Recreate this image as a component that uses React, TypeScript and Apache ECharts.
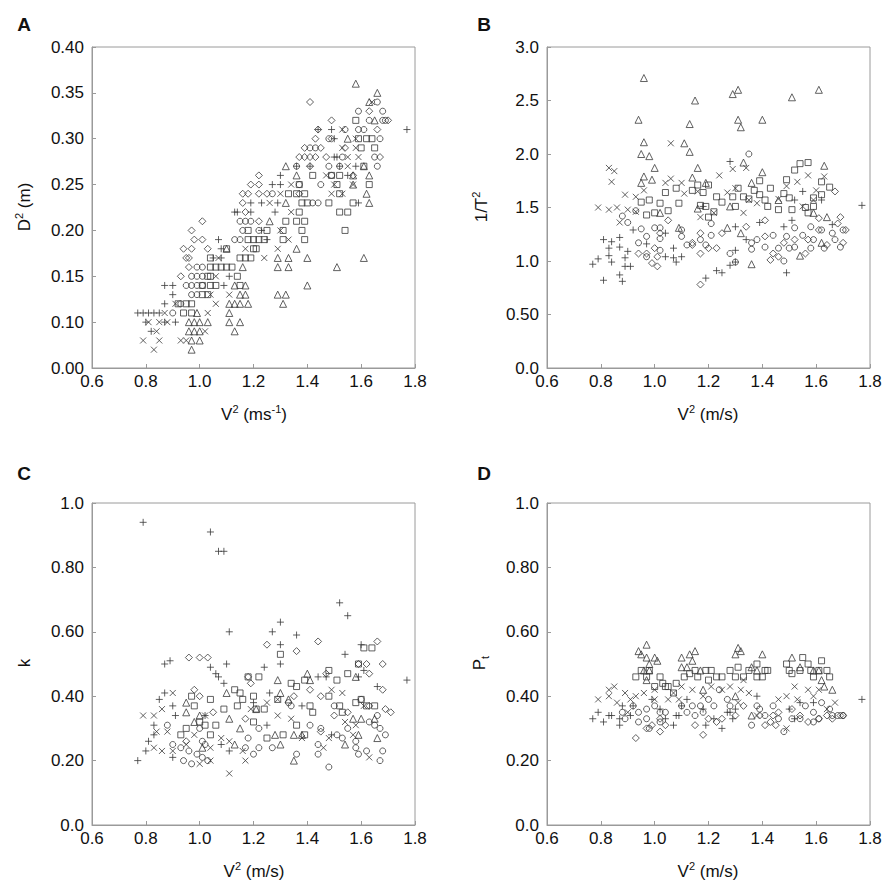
import React, { useEffect, useRef } from "react";
import * as echarts from "echarts";

type Pt = [number, number];

// ---------- tick labels ----------
const xTicks = ["0.6", "0.8", "1.0", "1.2", "1.4", "1.6", "1.8"];
const yTicksA = ["0.00", "0.10", "0.15", "0.20", "0.25", "0.30", "0.35", "0.40"];
const yTicksB = ["0.0", "0.50", "1.0", "1.5", "2.0", "2.5", "3.0"];
const yTicksCD = ["0.0", "0.20", "0.40", "0.60", "0.80", "1.0"];

// ---------- Panel A : D^2 vs V^2 ----------
const A_plus: Pt[] = [[1.44,0.31],[1.49,0.31],[1.77,0.31],[1.50,0.30],[1.50,0.28],[1.51,0.28],[1.36,0.27],[1.41,0.27],[1.52,0.27],[1.58,0.27],[1.30,0.26],[1.55,0.26],[1.27,0.25],[1.30,0.25],[1.19,0.23],[1.23,0.23],[1.29,0.23],[1.59,0.23],[1.13,0.22],[1.14,0.22],[1.19,0.22],[1.28,0.22],[1.23,0.20],[1.07,0.19],[1.25,0.19],[1.08,0.18],[1.05,0.17],[1.08,0.17],[1.11,0.15],[0.87,0.14],[0.90,0.14],[1.09,0.14],[0.90,0.13],[0.87,0.12],[0.77,0.11],[0.79,0.11],[0.81,0.11],[0.83,0.11],[0.85,0.11],[0.80,0.10],[0.87,0.10],[0.91,0.10],[0.82,0.09]];
const A_cross: Pt[] = [[1.64,0.34],[1.53,0.31],[1.58,0.30],[1.53,0.29],[1.58,0.29],[1.55,0.28],[1.59,0.28],[1.55,0.27],[1.47,0.26],[1.34,0.25],[1.50,0.25],[1.57,0.25],[1.30,0.24],[1.49,0.24],[1.53,0.24],[1.26,0.23],[1.34,0.22],[1.30,0.20],[1.33,0.19],[1.17,0.18],[1.29,0.18],[1.07,0.17],[1.24,0.17],[1.06,0.15],[1.04,0.13],[1.11,0.13],[0.91,0.12],[1.06,0.12],[0.87,0.11],[1.03,0.11],[0.81,0.10],[0.85,0.10],[0.88,0.10],[0.84,0.09],[1.02,0.09],[0.79,0.08],[0.85,0.08],[0.93,0.08],[0.95,0.08],[0.83,0.07]];
const A_diamond: Pt[] = [[1.41,0.34],[1.63,0.33],[1.49,0.32],[1.70,0.32],[1.44,0.31],[1.66,0.31],[1.43,0.30],[1.49,0.30],[1.39,0.29],[1.45,0.29],[1.54,0.29],[1.37,0.28],[1.39,0.28],[1.41,0.28],[1.43,0.28],[1.47,0.28],[1.67,0.28],[1.41,0.27],[1.22,0.26],[1.57,0.26],[1.19,0.25],[1.22,0.25],[1.16,0.24],[1.18,0.24],[1.22,0.24],[1.25,0.24],[1.37,0.24],[1.16,0.23],[1.17,0.22],[1.01,0.21],[1.22,0.21],[0.97,0.20],[0.98,0.19],[1.01,0.19],[0.94,0.18],[0.97,0.18],[1.03,0.18],[0.95,0.17],[0.96,0.17],[0.96,0.16],[0.93,0.15]];
const A_circle: Pt[] = [[1.66,0.34],[1.59,0.33],[1.68,0.33],[1.63,0.32],[1.68,0.32],[1.69,0.32],[1.54,0.31],[1.59,0.31],[1.61,0.31],[1.48,0.30],[1.67,0.30],[1.41,0.29],[1.43,0.29],[1.53,0.28],[1.65,0.28],[1.36,0.27],[1.48,0.27],[1.52,0.27],[1.66,0.27],[1.49,0.26],[1.37,0.25],[1.45,0.25],[1.27,0.24],[1.42,0.23],[1.44,0.23],[1.15,0.21],[1.17,0.21],[1.19,0.21],[1.16,0.20],[1.22,0.20],[1.13,0.19],[1.15,0.19],[0.99,0.16],[1.01,0.16],[0.97,0.15],[0.99,0.15],[1.01,0.15],[0.95,0.14],[0.97,0.14],[0.99,0.14],[1.01,0.14],[0.97,0.13],[0.99,0.13],[0.93,0.12],[0.90,0.11]];
const A_square: Pt[] = [[1.58,0.32],[1.59,0.30],[1.62,0.30],[1.64,0.30],[1.60,0.29],[1.65,0.29],[1.61,0.27],[1.42,0.26],[1.49,0.26],[1.52,0.26],[1.37,0.25],[1.51,0.25],[1.63,0.25],[1.33,0.24],[1.36,0.24],[1.39,0.24],[1.52,0.24],[1.38,0.23],[1.40,0.23],[1.48,0.23],[1.57,0.23],[1.37,0.22],[1.52,0.22],[1.55,0.22],[1.32,0.21],[1.36,0.21],[1.39,0.21],[1.18,0.20],[1.25,0.20],[1.31,0.20],[1.38,0.20],[1.54,0.20],[1.18,0.19],[1.20,0.19],[1.22,0.19],[1.24,0.19],[1.31,0.19],[1.39,0.19],[1.10,0.18],[1.20,0.18],[1.21,0.18],[1.04,0.17],[1.15,0.17],[1.17,0.17],[1.19,0.17],[1.04,0.16],[1.06,0.16],[1.08,0.16],[1.10,0.16],[1.12,0.16],[1.03,0.15],[1.04,0.15],[1.14,0.15],[1.01,0.14],[1.04,0.14],[1.06,0.14],[1.15,0.14],[1.01,0.13],[1.03,0.13],[0.92,0.12],[0.95,0.12],[0.97,0.12],[0.94,0.11],[0.97,0.11]];
const A_triangle: Pt[] = [[1.58,0.36],[1.66,0.35],[1.63,0.34],[1.65,0.32],[1.55,0.30],[1.32,0.27],[1.61,0.27],[1.36,0.26],[1.57,0.26],[1.63,0.26],[1.57,0.25],[1.62,0.24],[1.32,0.23],[1.63,0.23],[1.26,0.21],[1.10,0.18],[1.36,0.18],[1.29,0.17],[1.33,0.17],[1.40,0.17],[1.61,0.17],[1.16,0.16],[1.29,0.16],[1.33,0.16],[1.51,0.16],[1.13,0.14],[1.17,0.14],[1.40,0.14],[1.15,0.13],[1.17,0.13],[1.29,0.13],[1.32,0.13],[1.11,0.12],[1.13,0.12],[1.15,0.12],[1.18,0.12],[1.31,0.12],[0.99,0.11],[1.11,0.11],[0.96,0.10],[0.98,0.10],[1.00,0.10],[1.03,0.10],[1.11,0.10],[1.15,0.10],[0.96,0.09],[0.98,0.09],[1.00,0.09],[1.13,0.09],[0.97,0.08],[1.00,0.08],[0.97,0.07]];

// ---------- Panel B : 1/T^2 vs V^2 ----------
const B_triangle: Pt[] = [[0.96,2.71],[0.94,2.32],[0.96,2.11],[0.95,2.00],[0.98,1.98],[1.15,2.50],[1.13,2.28],[1.13,2.02],[1.11,2.10],[1.29,2.56],[1.31,2.60],[1.31,2.32],[1.32,2.25],[1.40,2.32],[1.33,1.92],[1.51,2.53],[1.61,2.60],[1.63,1.89],[0.96,1.79],[1.00,1.87],[0.99,1.76],[0.95,1.73],[1.16,1.87],[1.14,1.78],[1.19,1.73],[1.40,1.83],[1.36,1.73],[1.28,1.51],[1.32,1.26],[1.36,0.97],[1.54,1.05],[1.09,1.31],[1.27,1.31],[1.64,1.41],[1.62,1.17],[1.02,1.45],[1.16,1.49],[1.46,1.57],[1.59,1.45]];
const B_square: Pt[] = [[0.97,1.43],[0.98,1.57],[0.95,1.55],[1.00,1.45],[1.04,1.64],[1.05,1.47],[1.02,1.54],[1.08,1.68],[1.09,1.54],[1.14,1.66],[1.18,1.64],[1.16,1.71],[1.20,1.71],[1.17,1.52],[1.19,1.51],[1.22,1.46],[1.20,1.41],[1.23,1.60],[1.25,1.55],[1.29,1.60],[1.30,1.51],[1.31,1.68],[1.33,1.60],[1.35,1.58],[1.37,1.66],[1.39,1.62],[1.41,1.57],[1.42,1.51],[1.39,1.75],[1.43,1.68],[1.49,1.76],[1.50,1.59],[1.52,1.85],[1.54,1.91],[1.57,1.92],[1.51,1.48],[1.56,1.50],[1.59,1.51],[1.62,1.62],[1.65,1.69],[1.62,1.74],[1.46,1.48],[1.48,1.63],[1.57,1.45],[1.59,1.59]];
const B_cross: Pt[] = [[0.83,1.87],[0.85,1.84],[0.84,1.74],[0.79,1.50],[0.83,1.48],[0.86,1.50],[0.87,1.36],[0.89,1.62],[0.90,1.48],[0.93,1.60],[0.93,1.46],[0.96,1.66],[1.04,1.73],[1.06,2.10],[1.06,1.77],[1.10,1.73],[1.11,1.63],[1.16,1.65],[1.24,1.80],[1.27,1.64],[1.29,1.86],[1.30,1.68],[1.34,1.87],[1.35,1.57],[1.38,1.54],[1.46,1.58],[1.49,1.70],[1.53,1.74],[1.57,1.80],[1.63,1.79],[1.60,1.66],[1.55,1.51],[1.59,1.57],[1.17,1.41],[1.22,1.45],[1.33,1.45]];
const B_plus: Pt[] = [[0.77,0.97],[0.79,1.02],[0.81,0.82],[0.81,1.20],[0.83,1.12],[0.83,1.05],[0.84,1.18],[0.84,0.99],[0.87,1.22],[0.87,0.87],[0.88,0.81],[0.87,1.13],[0.89,1.03],[0.89,0.95],[0.91,0.95],[0.92,1.29],[0.90,1.09],[0.97,1.16],[1.04,1.04],[1.07,1.03],[1.08,0.99],[1.10,1.04],[1.07,1.12],[1.04,1.26],[1.18,1.51],[1.19,0.84],[1.23,0.91],[1.25,0.89],[1.28,1.93],[1.28,0.96],[1.30,0.99],[1.30,1.10],[1.30,1.32],[1.34,1.20],[1.39,1.36],[1.49,0.89],[1.51,1.38],[1.52,1.57],[1.55,1.65],[1.62,1.57],[1.77,1.52],[1.66,1.34],[1.48,1.32]];
const B_circle: Pt[] = [[0.90,1.36],[0.88,1.42],[0.93,1.47],[0.94,1.17],[0.95,1.30],[0.97,1.23],[0.97,1.04],[1.00,1.31],[1.02,1.10],[1.02,1.31],[1.02,1.21],[1.10,1.29],[1.10,1.23],[1.12,1.15],[1.17,1.20],[1.19,1.15],[1.21,1.35],[1.21,1.24],[1.28,1.07],[1.30,0.99],[1.35,2.00],[1.36,1.17],[1.36,1.11],[1.38,1.20],[1.41,1.13],[1.44,1.24],[1.48,1.00],[1.46,1.12],[1.49,1.23],[1.52,1.13],[1.55,1.24],[1.58,1.12],[1.58,1.32],[1.59,1.20],[1.62,1.29],[1.63,1.12],[1.66,1.26],[1.67,1.20],[1.70,1.29],[1.69,1.13],[1.52,1.31],[1.50,1.12]];
const B_diamond: Pt[] = [[1.01,0.95],[0.99,0.98],[0.97,1.07],[1.00,1.12],[1.02,1.26],[0.94,1.07],[1.01,1.04],[1.05,1.38],[1.14,1.15],[1.17,1.07],[1.17,0.78],[1.20,1.12],[1.23,1.12],[1.25,1.26],[1.41,1.38],[1.43,1.01],[1.44,1.07],[1.46,1.04],[1.48,1.17],[1.52,1.20],[1.56,1.07],[1.57,1.20],[1.61,1.29],[1.64,1.15],[1.67,1.65],[1.69,1.41],[1.71,1.29],[1.70,1.17],[1.68,1.35],[1.41,1.23],[1.34,1.32],[1.17,1.26],[1.14,1.17],[1.61,1.40]];

// ---------- Panel C : k vs V^2 ----------
const C_plus: Pt[] = [[0.79,0.94],[1.04,0.91],[1.07,0.85],[1.09,0.85],[1.11,0.60],[1.10,0.50],[0.87,0.50],[0.89,0.51],[0.77,0.20],[0.81,0.26],[0.80,0.23],[0.83,0.28],[0.83,0.31],[0.85,0.39],[0.87,0.41],[0.90,0.37],[0.91,0.34],[0.90,0.21],[1.04,0.49],[1.06,0.47],[1.07,0.46],[1.09,0.44],[1.11,0.23],[1.08,0.25],[1.02,0.34],[1.27,0.60],[1.30,0.63],[1.30,0.56],[1.30,0.50],[1.24,0.49],[1.26,0.41],[1.25,0.31],[1.36,0.59],[1.44,0.46],[1.47,0.46],[1.49,0.28],[1.52,0.69],[1.55,0.65],[1.54,0.53],[1.60,0.56],[1.61,0.48],[1.59,0.46],[1.66,0.43],[1.77,0.45],[1.38,0.37],[1.20,0.38]];
const C_cross: Pt[] = [[0.79,0.34],[0.83,0.34],[0.84,0.29],[0.86,0.36],[0.83,0.24],[0.86,0.23],[0.90,0.41],[0.88,0.29],[0.90,0.23],[1.00,0.19],[1.04,0.20],[1.04,0.24],[1.08,0.27],[1.11,0.16],[1.11,0.26],[1.17,0.20],[1.16,0.23],[1.19,0.36],[1.25,0.38],[1.29,0.34],[1.29,0.39],[1.34,0.33],[1.38,0.27],[1.46,0.24],[1.48,0.27],[1.49,0.42],[1.53,0.41],[1.54,0.32],[1.57,0.28],[1.63,0.21],[1.58,0.31],[0.98,0.28],[1.02,0.34],[0.95,0.25],[1.61,0.37]];
const C_diamond: Pt[] = [[0.96,0.52],[1.00,0.52],[1.03,0.52],[0.98,0.42],[1.00,0.40],[0.95,0.26],[1.25,0.56],[1.36,0.54],[1.44,0.57],[1.41,0.42],[1.45,0.40],[1.47,0.47],[1.59,0.50],[1.63,0.47],[1.66,0.57],[1.68,0.50],[1.68,0.42],[1.69,0.36],[1.71,0.35],[1.62,0.50],[1.18,0.46],[1.19,0.44],[1.35,0.40],[1.50,0.34],[1.63,0.37],[1.17,0.33],[1.55,0.35],[1.45,0.29],[1.05,0.35]];
const C_circle: Pt[] = [[0.88,0.31],[0.90,0.25],[0.93,0.24],[0.94,0.20],[0.97,0.19],[0.96,0.23],[0.99,0.22],[1.01,0.21],[1.03,0.20],[1.02,0.25],[1.00,0.30],[1.01,0.26],[1.17,0.24],[1.18,0.27],[1.20,0.22],[1.22,0.24],[1.22,0.30],[1.27,0.24],[1.34,0.37],[1.36,0.22],[1.41,0.31],[1.44,0.25],[1.44,0.22],[1.45,0.30],[1.48,0.18],[1.51,0.28],[1.53,0.27],[1.55,0.30],[1.58,0.26],[1.58,0.24],[1.59,0.22],[1.62,0.23],[1.63,0.32],[1.65,0.31],[1.67,0.30],[1.67,0.20],[1.68,0.23],[1.69,0.28],[1.66,0.34],[1.50,0.37],[1.60,0.39],[1.33,0.38]];
const C_square: Pt[] = [[0.93,0.28],[0.95,0.30],[0.97,0.40],[0.98,0.37],[1.00,0.32],[1.02,0.31],[1.04,0.28],[1.04,0.39],[1.06,0.31],[1.09,0.36],[1.13,0.42],[1.14,0.37],[1.15,0.41],[1.16,0.39],[1.18,0.46],[1.22,0.46],[1.20,0.40],[1.21,0.36],[1.24,0.36],[1.20,0.32],[1.25,0.27],[1.30,0.53],[1.29,0.39],[1.31,0.28],[1.34,0.44],[1.36,0.43],[1.36,0.31],[1.39,0.28],[1.39,0.45],[1.41,0.37],[1.42,0.35],[1.48,0.48],[1.48,0.40],[1.51,0.45],[1.52,0.37],[1.53,0.35],[1.55,0.47],[1.59,0.50],[1.58,0.38],[1.60,0.39],[1.61,0.55],[1.64,0.55],[1.62,0.37],[1.65,0.37]];
const C_triangle: Pt[] = [[0.95,0.35],[0.95,0.38],[0.98,0.32],[1.00,0.34],[1.01,0.24],[1.10,0.41],[1.11,0.33],[1.13,0.25],[1.15,0.30],[1.29,0.45],[1.30,0.41],[1.28,0.28],[1.30,0.25],[1.33,0.39],[1.35,0.28],[1.35,0.20],[1.38,0.28],[1.40,0.47],[1.41,0.45],[1.54,0.25],[1.57,0.33],[1.59,0.28],[1.60,0.33],[1.65,0.33],[1.58,0.46],[1.21,0.36],[1.66,0.27]];

// ---------- Panel D : Pt vs V^2 ----------
const D_triangle: Pt[] = [[0.97,0.56],[0.94,0.54],[0.95,0.53],[0.97,0.52],[0.98,0.50],[0.98,0.48],[1.00,0.52],[1.01,0.51],[0.96,0.48],[1.10,0.52],[1.13,0.53],[1.15,0.54],[1.14,0.51],[1.12,0.49],[1.10,0.49],[1.17,0.48],[1.18,0.42],[1.31,0.55],[1.30,0.53],[1.32,0.54],[1.36,0.49],[1.40,0.53],[1.38,0.48],[1.51,0.52],[1.54,0.49],[1.59,0.48],[1.61,0.48],[1.62,0.45],[1.63,0.43],[1.66,0.42],[1.36,0.34],[1.30,0.40],[0.97,0.45]];
const D_square: Pt[] = [[0.93,0.46],[0.95,0.48],[0.97,0.46],[0.98,0.48],[1.00,0.43],[1.02,0.46],[1.03,0.44],[1.04,0.43],[1.05,0.43],[1.08,0.44],[1.07,0.41],[1.11,0.46],[1.13,0.47],[1.15,0.48],[1.16,0.46],[1.19,0.48],[1.21,0.48],[1.20,0.45],[1.23,0.46],[1.25,0.46],[1.28,0.48],[1.30,0.46],[1.31,0.49],[1.33,0.46],[1.35,0.48],[1.38,0.46],[1.38,0.50],[1.40,0.46],[1.41,0.48],[1.42,0.48],[1.49,0.50],[1.50,0.48],[1.51,0.47],[1.54,0.48],[1.55,0.52],[1.57,0.50],[1.58,0.48],[1.61,0.48],[1.62,0.51],[1.64,0.48],[1.65,0.46],[1.59,0.46]];
const D_cross: Pt[] = [[0.79,0.39],[0.83,0.42],[0.85,0.43],[0.83,0.40],[0.86,0.38],[0.89,0.41],[0.91,0.39],[0.93,0.40],[0.90,0.35],[0.96,0.41],[1.00,0.42],[1.00,0.39],[1.05,0.39],[1.07,0.41],[1.09,0.39],[1.10,0.43],[1.14,0.42],[1.18,0.40],[1.21,0.43],[1.25,0.42],[1.28,0.43],[1.33,0.45],[1.32,0.42],[1.31,0.38],[1.35,0.41],[1.38,0.34],[1.46,0.39],[1.49,0.40],[1.52,0.43],[1.53,0.39],[1.57,0.42],[1.59,0.40],[1.61,0.42],[1.49,0.30],[1.64,0.36],[1.67,0.38]];
const D_plus: Pt[] = [[0.77,0.33],[0.79,0.35],[0.81,0.32],[0.83,0.34],[0.84,0.34],[0.87,0.31],[0.87,0.33],[0.88,0.37],[0.91,0.34],[0.92,0.37],[0.99,0.39],[1.02,0.36],[1.04,0.33],[1.07,0.31],[1.08,0.34],[1.09,0.34],[1.10,0.37],[1.12,0.39],[1.18,0.36],[1.19,0.31],[1.22,0.33],[1.25,0.30],[1.27,0.35],[1.28,0.35],[1.29,0.33],[1.30,0.36],[1.38,0.40],[1.50,0.36],[1.54,0.38],[1.59,0.38],[1.77,0.39],[1.52,0.33]];
const D_circle: Pt[] = [[0.88,0.35],[0.89,0.33],[0.92,0.37],[0.94,0.35],[0.94,0.32],[0.97,0.36],[0.97,0.33],[0.98,0.30],[1.00,0.37],[1.02,0.35],[1.04,0.35],[1.02,0.32],[1.10,0.37],[1.12,0.35],[1.14,0.37],[1.15,0.34],[1.17,0.37],[1.18,0.35],[1.20,0.39],[1.22,0.37],[1.24,0.42],[1.27,0.39],[1.28,0.37],[1.38,0.37],[1.39,0.36],[1.36,0.31],[1.41,0.34],[1.44,0.37],[1.46,0.33],[1.48,0.29],[1.51,0.33],[1.54,0.33],[1.56,0.37],[1.59,0.35],[1.61,0.33],[1.62,0.38],[1.65,0.36],[1.66,0.34],[1.68,0.34],[1.70,0.34],[1.59,0.32]];
const D_diamond: Pt[] = [[0.93,0.27],[0.97,0.30],[0.99,0.31],[1.02,0.29],[1.04,0.31],[1.02,0.33],[1.18,0.28],[1.15,0.31],[1.20,0.33],[1.23,0.32],[1.25,0.33],[1.39,0.34],[1.41,0.31],[1.43,0.32],[1.45,0.31],[1.44,0.34],[1.46,0.35],[1.54,0.34],[1.57,0.32],[1.61,0.33],[1.66,0.33],[1.69,0.34],[1.70,0.34],[1.64,0.34],[1.33,0.37],[1.30,0.34],[1.51,0.36]];

// ---------- styling ----------
const FONT = "'Liberation Sans', Arial, Helvetica, sans-serif";
const STROKE = "#3a3a3a";
const FRAME = "#9a9a9a";

const SYMBOL: Record<string, string> = {
  plus: "path://M5 0V10M0 5H10",
  cross: "path://M0 0L10 10M10 0L0 10",
  diamond: "diamond",
  circle: "circle",
  square: "rect",
  triangle: "triangle",
};
const SIZE: Record<string, number> = { plus: 7, cross: 6, diamond: 7, circle: 6, square: 6, triangle: 7 };

const GRIDS = [
  { left: 92, top: 47, width: 323, height: 321 },
  { left: 547, top: 47, width: 323, height: 321 },
  { left: 92, top: 503, width: 323, height: 322 },
  { left: 547, top: 503, width: 323, height: 322 },
];

const Y_AXES = [
  { min: 0.05, max: 0.4, interval: 0.05, labels: yTicksA },
  { min: 0, max: 3, interval: 0.5, labels: yTicksB },
  { min: 0, max: 1, interval: 0.2, labels: yTicksCD },
  { min: 0, max: 1, interval: 0.2, labels: yTicksCD },
];

const PANELS: Record<string, Pt[]>[] = [
  { plus: A_plus, cross: A_cross, diamond: A_diamond, circle: A_circle, square: A_square, triangle: A_triangle },
  { plus: B_plus, cross: B_cross, diamond: B_diamond, circle: B_circle, square: B_square, triangle: B_triangle },
  { plus: C_plus, cross: C_cross, diamond: C_diamond, circle: C_circle, square: C_square, triangle: C_triangle },
  { plus: D_plus, cross: D_cross, diamond: D_diamond, circle: D_circle, square: D_square, triangle: D_triangle },
];

const RICH = {
  a: { fontSize: 17, fontFamily: FONT, fill: "#111", lineHeight: 22 },
  sup: { fontSize: 11, fontFamily: FONT, fill: "#111", verticalAlign: "top", lineHeight: 22 },
  sub: { fontSize: 11, fontFamily: FONT, fill: "#111", verticalAlign: "bottom", lineHeight: 22 },
};

function titleText(x: number, y: number, text: string, rotate = false) {
  return {
    type: "text",
    x,
    y,
    rotation: rotate ? Math.PI / 2 : 0,
    silent: true,
    style: {
      text,
      rich: RICH,
      align: "center",
      verticalAlign: "middle",
      font: `17px ${FONT}`,
      fill: "#111",
    },
  };
}

function letter(x: number, y: number, t: string) {
  return {
    type: "text",
    x,
    y,
    silent: true,
    style: { text: t, fontSize: 19, fontWeight: "bold", fontFamily: FONT, fill: "#111", align: "center", verticalAlign: "middle" },
  };
}

export default function App() {
  const ref = useRef<HTMLDivElement>(null);
  useEffect(() => {
    if (!ref.current) return;
    const chart = echarts.init(ref.current, undefined, { renderer: "svg" });

    const grid = GRIDS.map((g) => ({ ...g, show: true, borderColor: FRAME, borderWidth: 1, containLabel: false }));

    const xAxis = GRIDS.map((_, i) => ({
      type: "value",
      gridIndex: i,
      min: 0.6,
      max: 1.8,
      interval: 0.2,
      axisLine: { show: true, lineStyle: { color: FRAME, width: 1 } },
      axisTick: { show: true, inside: true, length: 4, lineStyle: { color: FRAME } },
      splitLine: { show: false },
      axisLabel: {
        show: true,
        margin: 5,
        color: "#111",
        fontSize: 17,
        fontFamily: FONT,
        formatter: (_v: number, idx: number) => xTicks[idx] ?? "",
      },
    }));

    const yAxis = Y_AXES.map((a, i) => ({
      type: "value",
      gridIndex: i,
      min: a.min,
      max: a.max,
      interval: a.interval,
      axisLine: { show: true, lineStyle: { color: FRAME, width: 1 } },
      axisTick: { show: true, inside: true, length: 4, lineStyle: { color: FRAME } },
      splitLine: { show: false },
      axisLabel: {
        show: true,
        margin: 8,
        color: "#111",
        fontSize: 17,
        fontFamily: FONT,
        formatter: (_v: number, idx: number) => a.labels[idx] ?? "",
      },
    }));

    const series: any[] = [];
    PANELS.forEach((p, i) => {
      ["circle", "diamond", "plus", "cross", "square", "triangle"].forEach((k) => {
        series.push({
          type: "scatter",
          xAxisIndex: i,
          yAxisIndex: i,
          data: p[k],
          symbol: SYMBOL[k],
          symbolSize: SIZE[k],
          silent: true,
          itemStyle: { color: "rgba(0,0,0,0)", borderColor: STROKE, borderWidth: 1 },
          emphasis: { disabled: true },
        });
      });
    });

    const graphic = [
      letter(24, 24, "A"),
      letter(484, 24, "B"),
      letter(24, 473, "C"),
      letter(484, 473, "D"),
      titleText(254, 414, "{a|V}{sup|2}{a| (ms}{sup|-1}{a|)}"),
      titleText(24, 207, "{a|D}{sup|2}{a| (m)}", true),
      titleText(708, 414, "{a|V}{sup|2}{a| (m/s)}"),
      titleText(481, 207, "{a|1/T}{sup|2}", true),
      titleText(254, 871, "{a|V}{sup|2}{a| (m/s)}"),
      titleText(24, 663, "{a|k}", true),
      titleText(708, 871, "{a|V}{sup|2}{a| (m/s)}"),
      titleText(479, 663, "{a|P}{sub|t}", true),
    ];

    chart.setOption({
      animation: false,
      backgroundColor: "#ffffff",
      grid,
      xAxis,
      yAxis,
      series,
      graphic,
    } as any);

    return () => chart.dispose();
  }, []);

  return <div ref={ref} style={{ position: "fixed", left: 0, top: 0, width: 892, height: 888 }} />;
}
